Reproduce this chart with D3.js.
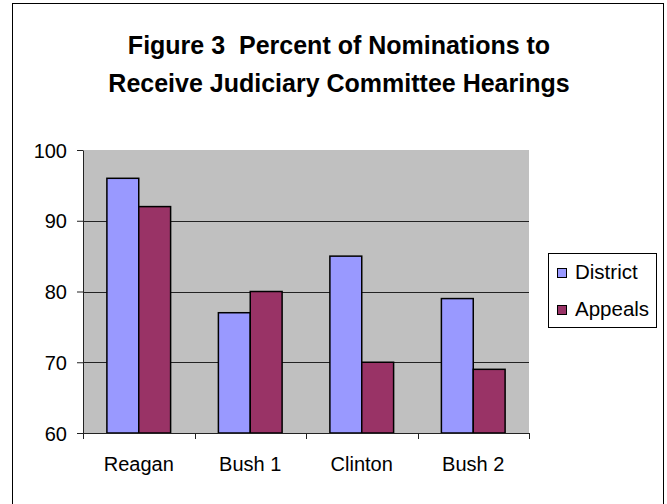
<!DOCTYPE html>
<html>
<head>
<meta charset="utf-8">
<script src="https://cdn.jsdelivr.net/npm/d3@7"></script>
<style>
  html, body { margin: 0; padding: 0; background: #fff; }
  svg { display: block; font-family: Arial, "Liberation Sans", sans-serif; }
</style>
</head>
<body>
<svg id="chart" width="667" height="504"></svg>
<script>
// Administrations and the share of nominations that got a hearing
const categories = ["Reagan", "Bush 1", "Clinton", "Bush 2"];
const seriesNames = ["District", "Appeals"];
const districtValues = [96, 77, 85, 79];
const appealsValues = [92, 80, 70, 69];
const yTicks = [60, 70, 80, 90, 100];
const titleLines = ["Figure 3\u00a0\u00a0Percent of Nominations to", "Receive Judiciary Committee Hearings"];
const seriesColors = ["#9999FF", "#993366"];

const series = [districtValues, appealsValues];

const svg = d3.select("#chart");

// Outer chart frame
svg.append("rect")
  .attr("x", 12.5).attr("y", 3.5)
  .attr("width", 651).attr("height", 510)
  .attr("fill", "#fff").attr("stroke", "#000").attr("stroke-width", 1);

// Title
svg.append("g").selectAll("text")
  .data(titleLines)
  .join("text")
  .attr("x", 339)
  .attr("y", (d, i) => 54 + i * 38)
  .attr("text-anchor", "middle")
  .attr("font-weight", "bold")
  .attr("font-size", 25)
  .attr("fill", "#000")
  .text(d => d);

const plot = { left: 83, right: 529, top: 150, bottom: 433 };

const x = d3.scaleBand()
  .domain(categories)
  .range([plot.left, plot.right])
  .paddingInner(0).paddingOuter(0);

const y = d3.scaleLinear()
  .domain([60, 100])
  .range([plot.bottom, plot.top]);

// Gray plot area
svg.append("rect")
  .attr("x", plot.left).attr("y", plot.top)
  .attr("width", plot.right - plot.left)
  .attr("height", plot.bottom - plot.top)
  .attr("fill", "#C0C0C0");

// Horizontal gridlines
svg.append("g").selectAll("line")
  .data(yTicks.filter(t => t !== 60 && t !== 100))
  .join("line")
  .attr("x1", plot.left).attr("x2", plot.right)
  .attr("y1", d => Math.round(y(d)) + 0.5)
  .attr("y2", d => Math.round(y(d)) + 0.5)
  .attr("stroke", "#222").attr("stroke-width", 1);

// Bars: width from a 150% gap between clusters
const bw = x.bandwidth() / (series.length + 1.5);
const gap = (x.bandwidth() - bw * series.length) / 2;

series.forEach((vals, si) => {
  svg.append("g").selectAll("rect")
    .data(vals)
    .join("rect")
    .attr("x", (d, i) => x(categories[i]) + gap + si * bw)
    .attr("y", d => y(d))
    .attr("width", bw)
    .attr("height", d => y(60) - y(d))
    .attr("fill", seriesColors[si])
    .attr("stroke", "#000")
    .attr("stroke-width", 1.5);
});

// Y axis
const yAxis = svg.append("g")
  .attr("transform", `translate(${plot.left},0)`)
  .call(d3.axisLeft(y).tickValues(yTicks).tickSize(6).tickPadding(10).tickSizeOuter(0));
yAxis.select(".domain").attr("stroke", "#222");
yAxis.selectAll(".tick line").attr("stroke", "#222");
yAxis.selectAll("text")
  .attr("font-size", 20).attr("font-family", "Arial, 'Liberation Sans', sans-serif")
  .attr("fill", "#000").attr("dy", "0.36em");

// X axis with ticks between categories
const xAxis = svg.append("g")
  .attr("transform", `translate(0,${plot.bottom})`);
xAxis.append("line")
  .attr("x1", plot.left).attr("x2", plot.right)
  .attr("y1", 0.5).attr("y2", 0.5)
  .attr("stroke", "#222");
const boundaries = categories.map(c => x(c)).concat([plot.right]);
xAxis.selectAll("line.tick")
  .data(boundaries)
  .join("line")
  .attr("class", "tick")
  .attr("x1", d => Math.round(d) + 0.5).attr("x2", d => Math.round(d) + 0.5)
  .attr("y1", 0).attr("y2", 6)
  .attr("stroke", "#222");
xAxis.selectAll("text")
  .data(categories)
  .join("text")
  .attr("x", d => x(d) + x.bandwidth() / 2)
  .attr("y", 38)
  .attr("text-anchor", "middle")
  .attr("font-size", 20)
  .attr("fill", "#000")
  .text(d => d);

// Legend
const legend = svg.append("g");
legend.append("rect")
  .attr("x", 548.5).attr("y", 253.5)
  .attr("width", 108).attr("height", 74)
  .attr("fill", "#fff").attr("stroke", "#000").attr("stroke-width", 1);
const items = legend.selectAll("g.item")
  .data(seriesNames)
  .join("g")
  .attr("class", "item")
  .attr("transform", (d, i) => `translate(0,${i * 37})`);
items.append("rect")
  .attr("x", 557.5).attr("y", 268.5)
  .attr("width", 9).attr("height", 9)
  .attr("fill", (d, i) => seriesColors[i])
  .attr("stroke", "#000").attr("stroke-width", 1);
items.append("text")
  .attr("x", 575).attr("y", 278.5)
  .attr("font-size", 20.5)
  .attr("fill", "#000")
  .text(d => d);
</script>
</body>
</html>
